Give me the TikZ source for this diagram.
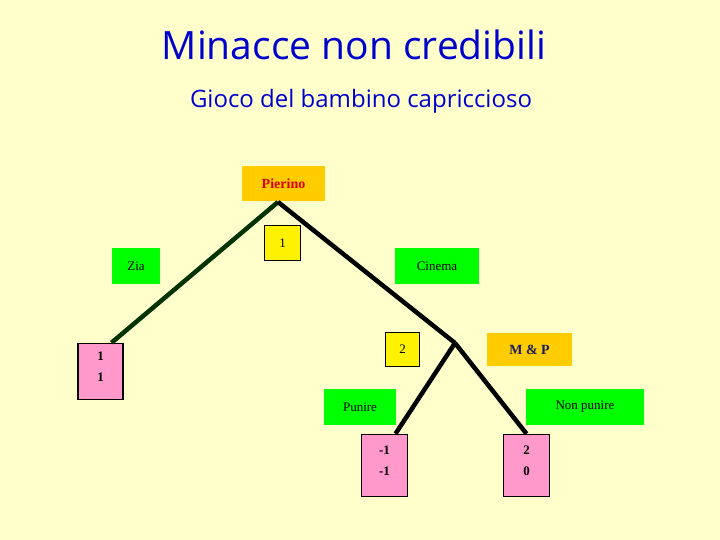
\documentclass[tikz,border=0pt]{standalone}
\usepackage{fontspec}
\setmainfont{Liberation Serif}
\newfontfamily\titlefont{Open Sans}
\usetikzlibrary{positioning, calc}

\definecolor{bgyellow}{HTML}{FFFFCC}
\definecolor{titleblue}{HTML}{0000CC}
\definecolor{boxorange}{HTML}{FFCC00}
\definecolor{boxgreen}{HTML}{00FF00}
\definecolor{boxpink}{HTML}{FF99CC}
\definecolor{darkgreen}{HTML}{003300}
\definecolor{mpblue}{HTML}{1A1A66}

\newcommand{\liftpay}{\rule[-10pt]{0pt}{10pt}}

\begin{document}
\begin{tikzpicture}[x=1pt, y=-1pt,
  player/.style={rectangle, fill=boxorange, inner sep=0pt, font=\fontsize{14}{16}\selectfont\bfseries},
  move/.style={rectangle, fill=boxgreen, inner sep=0pt, font=\fontsize{13}{15}\selectfont},
  turn/.style={draw, rectangle, line width=1.5pt, fill=yellow, inner sep=0pt, font=\fontsize{13}{15}\selectfont},
  payoff/.style={draw, rectangle, line width=1.5pt, fill=boxpink, inner sep=0pt, align=center, font=\fontsize{13}{21}\selectfont\bfseries},
  branch/.style={line width=4.5pt}]
  % Background
  \fill[bgyellow] (0,0) rectangle (720,540);
  \useasboundingbox (0,0) rectangle (720,540);

  % Title
  \node[text=titleblue, font=\titlefont\fontsize{39}{46}\selectfont] (title) at (354,45) {Minacce non credibili};
  \node[text=titleblue, font=\titlefont\fontsize{24}{29}\selectfont] (subtitle) at (361,101) {Gioco del bambino capriccioso};

  % Players and turns
  \node[player, text=red!85!black, minimum width=83pt, minimum height=35pt] (pierino) at (283.5,183.5) {Pierino};
  \node[turn, minimum width=36pt, minimum height=35pt] (one) at (282.5,243) {1};
  \node[turn, minimum width=34pt, minimum height=34pt] (two) at (402.5,349.5) {2};
  \node[player, text=mpblue, minimum width=85pt, minimum height=33pt] (mp) at (529.5,349.5) {M \& P};

  % Moves
  \node[move, minimum width=48pt, minimum height=36pt] (zia) at (136,266) {Zia};
  \node[move, minimum width=84pt, minimum height=36pt] (cinema) at (437,266) {Cinema};
  \node[move, minimum width=72pt, minimum height=36pt] (punire) at (360,407) {Punire};
  \node[move, minimum width=118pt, minimum height=36pt] (nonpunire) at (585,407) {Non punire};

  % Payoffs
  \node[payoff, minimum width=45pt, minimum height=56pt] (payzia) at (100.5,371.5) {1\\1\liftpay};
  \node[payoff, minimum width=46pt, minimum height=62pt] (paypunire) at (384.5,465.5) {-1\\-1\liftpay};
  \node[payoff, minimum width=46pt, minimum height=62pt] (paynon) at (526.5,465.5) {2\\0\liftpay};

  % Branches
  \coordinate (root) at (278,202);
  \coordinate (split) at (455,343);
  \draw[branch, darkgreen] (root) -- ($(payzia.north)+(11,0)$);
  \draw[branch] (root) -- (split);
  \draw[branch] (split) -- ($(paypunire.north)+(11,0)$);
  \draw[branch] (split) -- (paynon.north);
\end{tikzpicture}
\end{document}
